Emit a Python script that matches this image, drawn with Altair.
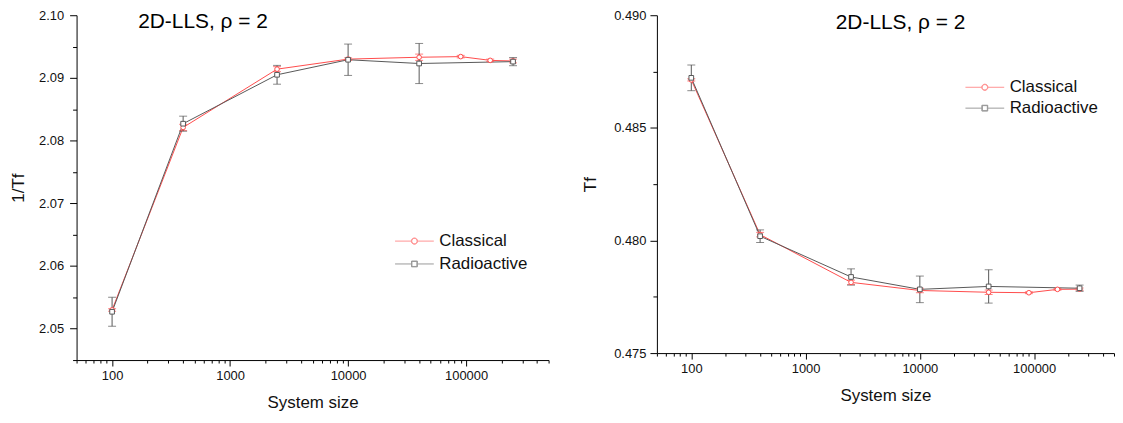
import altair as alt
import pandas as pd

SERIES = ["Classical", "Radioactive"]
COLORS = ["#ff4c4c", "#585858"]

sizes_c = [100, 400, 2500, 10000, 40000, 90000, 160000, 250000]
sizes_r = [100, 400, 2500, 10000, 40000, 250000]

inv_c = [2.0530, 2.0821, 2.0914, 2.0930, 2.0933, 2.0934, 2.0928, 2.0927]
inv_c_err = [0.0002, 0.0005, 0.0004, 0.0002, 0.0005, 0.0002, 0.0002, 0.0003]
inv_r = [2.0527, 2.0827, 2.0905, 2.0929, 2.0923, 2.0926]
inv_r_err = [0.0023, 0.0012, 0.0015, 0.0025, 0.0032, 0.00065]

tf_c = [0.48713, 0.48026, 0.47814, 0.47778, 0.47770, 0.47768, 0.47783, 0.47784]
tf_c_err = [0.00005, 0.0001, 0.0001, 0.0001, 0.0001, 0.00004, 0.00004, 0.00005]
tf_r = [0.48722, 0.48019, 0.47838, 0.47783, 0.47796, 0.47788]
tf_r_err = [0.00057, 0.00028, 0.00036, 0.00059, 0.00074, 0.00014]

TITLE = "2D-LLS, \u03c1 = 2"
X_TICKS = [50, 60, 70, 80, 90] + [m * d for d in (100, 1000, 10000, 100000) for m in range(1, 10)] + [500000]
Y1_TICKS = [2.045, 2.050, 2.055, 2.060, 2.065, 2.070, 2.075, 2.080, 2.085, 2.090, 2.095, 2.100]
Y2_TICKS = [0.475, 0.4775, 0.480, 0.4825, 0.485, 0.4875, 0.490]

FONT = "Liberation Sans"

# legend symbols: line with an open marker (ring drawn with a hole) in the middle
PATH_C = ("M-1,0L-0.16,0M0.16,0L1,0"
          "M-0.16,0A0.16,0.16,0,1,1,0.16,0A0.16,0.16,0,1,1,-0.16,0Z"
          "M-0.14,0A0.14,0.14,0,1,0,0.14,0A0.14,0.14,0,1,0,-0.14,0Z")
PATH_R = ("M-1,0L-0.15,0M0.15,0L1,0"
          "M-0.15,-0.15L0.15,-0.15L0.15,0.15L-0.15,0.15Z"
          "M-0.13,-0.13L-0.13,0.13L0.13,0.13L0.13,-0.13Z")


def make_df(vc, ec, vr, er):
    rows = []
    for s, v, e in zip(sizes_c, vc, ec):
        rows.append({"size": s, "value": v, "lo": v - e, "hi": v + e, "series": "Classical"})
    for s, v, e in zip(sizes_r, vr, er):
        rows.append({"size": s, "value": v, "lo": v - e, "hi": v + e, "series": "Radioactive"})
    return pd.DataFrame(rows)


x_major_test = "indexof([100,1000,10000,100000], datum.value) >= 0"
x_axis = alt.Axis(
    values=X_TICKS,
    labelExpr=f"{x_major_test} ? format(datum.value, 'd') : ''",
    tickSize={"condition": {"test": x_major_test, "value": 6}, "value": 3},
    labelOverlap=False,
    labelPadding=4,
    titlePadding=12,
    grid=False,
)


def y_axis(test, fmt, ticks, label_pad, title_pad):
    return alt.Axis(
        values=ticks,
        labelExpr=f"({test}) ? format(datum.value, '{fmt}') : ''",
        tickSize={"condition": {"test": test, "value": 7}, "value": 4},
        labelOverlap=False,
        labelPadding=label_pad,
        titlePadding=title_pad,
        grid=False,
    )


def panel(df, ytitle, ydomain, yax, width, height, lx, ly, clip_h, tx, ty):
    xs = alt.Scale(type="log", domain=[50, 500000], nice=False)
    ys = alt.Scale(domain=ydomain, nice=False, zero=False)
    cs = alt.Scale(domain=SERIES, range=COLORS)
    leg = alt.Legend(
        title=None, orient="none", legendX=lx, legendY=ly, padding=0,
        labelFont=FONT, labelFontSize=17, labelColor="#111",
        symbolSize=1521, symbolStrokeWidth=1, symbolOpacity=0.6,
        symbolFillColor="white",
        clipHeight=clip_h, labelOffset=5, rowPadding=0,
    )
    X = alt.X("size:Q", scale=xs, axis=x_axis, title="System size")
    Y = alt.Y("value:Q", scale=ys, axis=yax, title=ytitle)
    S = alt.Stroke("series:N", scale=cs, legend=leg)
    base = alt.Chart(df)

    lines = base.mark_line(strokeWidth=1).encode(x=X, y=Y, stroke=S, detail="series:N")
    ebars = base.mark_errorbar(ticks={"size": 8}, thickness=1).encode(
        x=X,
        y=alt.Y("lo:Q", scale=ys, axis=yax, title=ytitle),
        y2="hi:Q",
        color=alt.Color("series:N", scale=alt.Scale(domain=SERIES, range=COLORS), legend=None),
    )
    pts_c = base.transform_filter("datum.series == 'Classical'").mark_point(
        shape="circle", filled=False, fill="white", size=22, strokeWidth=1, opacity=1
    ).encode(x=X, y=Y, stroke=S)
    pts_r = base.transform_filter("datum.series == 'Radioactive'").mark_point(
        shape="square", filled=False, fill="white", size=22, strokeWidth=1, opacity=1
    ).encode(x=X, y=Y, stroke=S)
    legend_layer = base.transform_filter("datum.size < 0").mark_point(
        filled=False, fill="white", size=1521, strokeWidth=1
    ).encode(
        x=X, y=Y, stroke=S,
        shape=alt.Shape("series:N", scale=alt.Scale(domain=SERIES, range=[PATH_C, PATH_R]), legend=leg),
    )
    title = alt.Chart(pd.DataFrame({"t": [TITLE]})).mark_text(
        align="left", baseline="alphabetic", fontSize=21, font=FONT, color="#000"
    ).encode(text="t:N", x=alt.value(tx), y=alt.value(ty))

    return alt.layer(lines, ebars, pts_c, pts_r, legend_layer, title).properties(
        width=width, height=height
    )


df1 = make_df(inv_c, inv_c_err, inv_r, inv_r_err)
df2 = make_df(tf_c, tf_c_err, tf_r, tf_r_err)

t1 = "abs(datum.value*100 - round(datum.value*100)) < 1e-6"
t2 = "abs(datum.value*200 - round(datum.value*200)) < 1e-6"

left = panel(df1, "1/Tf", [2.045, 2.10], y_axis(t1, ".2f", Y1_TICKS, 6, 11), 475, 347, 320, 216, 22.6, 62, 12.5)
right = panel(df2, "Tf", [0.475, 0.490], y_axis(t2, ".3f", Y2_TICKS, 4, 14), 460, 340, 310, 62, 21, 180, 13.5)

chart = alt.hconcat(left, right, spacing=32).resolve_scale(
    x="independent", y="independent", stroke="independent", shape="independent", color="independent"
).resolve_legend(stroke="independent", shape="independent").properties(
    padding={"left": 1, "top": 0, "right": 0, "bottom": 0}
).configure_view(stroke=None).configure_axis(
    domainColor="#000", domainWidth=1, tickColor="#000", tickWidth=1,
    labelColor="#111", labelFont=FONT, labelFontSize=13,
    titleColor="#111", titleFont=FONT, titleFontSize=17, titleFontWeight="normal",
)

chart.save("out.html", embed_options={"renderer": "svg", "actions": False})
